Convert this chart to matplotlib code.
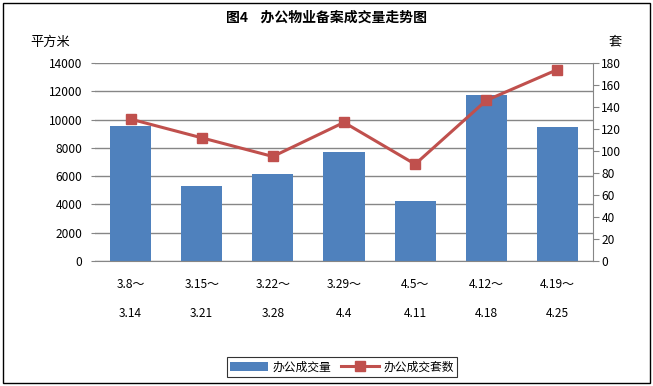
import matplotlib
matplotlib.use("Agg")
import matplotlib.pyplot as plt
from matplotlib.patches import Rectangle
import numpy as np

plt.rcParams['font.family'] = ['Noto Sans CJK SC', 'DejaVu Sans']

# data
weeks_start = ['3.8～', '3.15～', '3.22～', '3.29～', '4.5～', '4.12～', '4.19～']
weeks_end = ['3.14', '3.21', '3.28', '4.4', '4.11', '4.18', '4.25']
area = [9550, 5300, 6150, 7700, 4250, 11750, 9480]   # 办公成交量 (平方米)
units = [129, 112, 95, 126, 88, 146, 174]             # 办公成交套数 (套)

bar_color = '#4F81BD'
line_color = '#C0504D'
grid_color = '#868686'

fig = plt.figure(figsize=(6.53, 3.86), dpi=100)
ax = fig.add_axes([95 / 653, 1 - 261 / 386, 498 / 653, 198 / 386])
ax2 = ax.twinx()

x = np.arange(len(area))
bars = ax.bar(x, area, width=0.58, color=bar_color, zorder=2, label='办公成交量')
ln, = ax2.plot(x, units, color=line_color, lw=2.2, marker='s', ms=7,
               mec=line_color, mfc=line_color, zorder=3, label='办公成交套数')

ax.set_xlim(-0.5, len(area) - 0.5)
ax.set_ylim(0, 14000)
ax.set_yticks(range(0, 14001, 2000))
ax2.set_ylim(0, 180)
ax2.set_yticks(range(0, 181, 20))

ax.yaxis.grid(True, color=grid_color, lw=1)
ax.set_axisbelow(True)

for a in (ax, ax2):
    for s in ('top', 'left', 'right'):
        a.spines[s].set_visible(False)
    a.spines['bottom'].set_color(grid_color)
ax2.spines['right'].set_visible(True)
ax2.spines['right'].set_color(grid_color)
ax2.spines['bottom'].set_visible(False)

ax.tick_params(axis='y', length=3, color=grid_color, labelsize=8.6, pad=6)
ax2.tick_params(axis='y', length=4, color=grid_color, labelsize=8.6, pad=2)

ax.set_xticks(x)
ax.set_xticklabels([f'{a}\n{b}' for a, b in zip(weeks_start, weeks_end)],
                   fontsize=8.6, linespacing=2.6)
ax.tick_params(axis='x', length=0, pad=12)

fig.text(50 / 653, 1 - 42 / 386, '平方米', fontsize=9.5, ha='center', va='center')
fig.text(615 / 653, 1 - 42 / 386, '套', fontsize=9.5, ha='center', va='center')
fig.text(326 / 653, 1 - 18 / 386, '图4    办公物业备案成交量走势图', fontsize=10,
         fontweight='bold', ha='center', va='center')

leg = fig.legend(handles=[bars, ln], loc='center', bbox_to_anchor=(342 / 653, 1 - 367 / 386),
                 ncol=2, fontsize=8.5, frameon=True, fancybox=False, edgecolor='black',
                 handlelength=3.2, columnspacing=0.8, handletextpad=0.4,
                 borderpad=0.3)
leg.get_frame().set_linewidth(0.8)

fig.patches.append(Rectangle((3 / 653, 3 / 386), 647 / 653, 380 / 386,
                             transform=fig.transFigure, fill=False,
                             edgecolor='black', lw=1))

fig.savefig('out.png', dpi=100)
